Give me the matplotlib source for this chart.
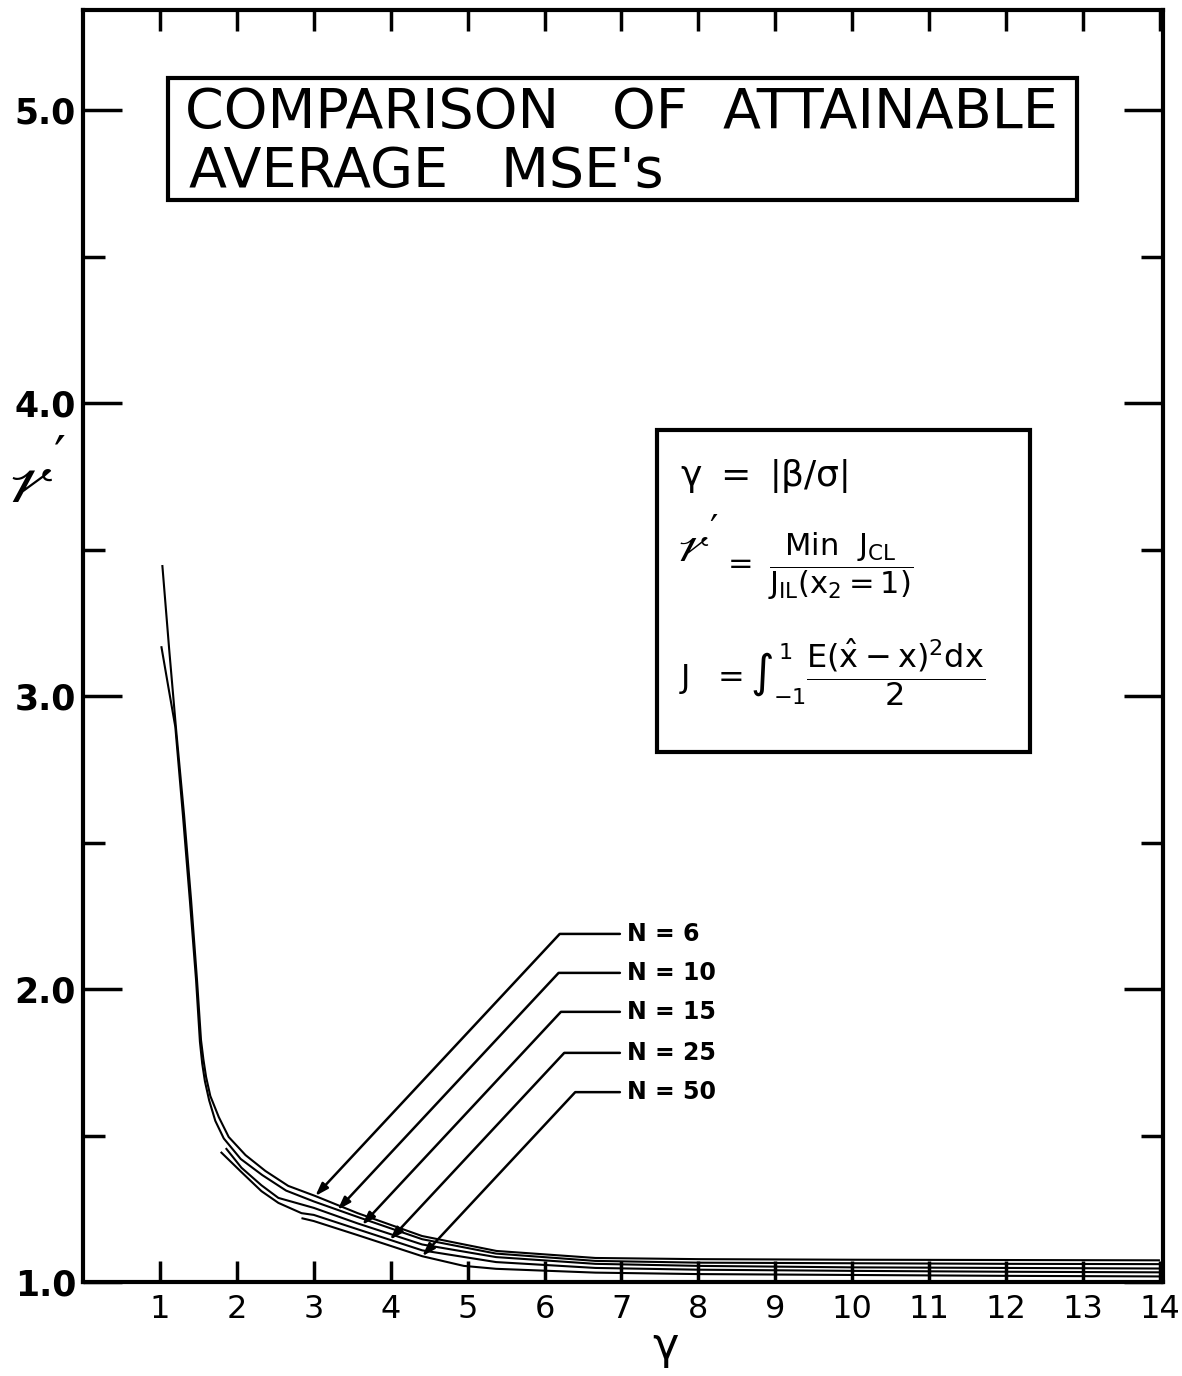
"""Comparison of attainable average MSE's (r' versus gamma, several N)."""

import matplotlib

matplotlib.use("Agg")
import matplotlib.pyplot as plt
import numpy as np
from matplotlib.patches import Rectangle

plt.rcParams["font.family"] = ["DejaVu Sans"]
plt.rcParams["mathtext.fontset"] = "dejavusans"
plt.rcParams["mathtext.default"] = "regular"

# curves, one per N
N_VALUES = [6, 10, 15, 25, 50]

GAMMA_N6 = [1.031, 1.121, 1.211, 1.314, 1.405, 1.482, 1.534, 1.565, 1.6, 1.655,
            1.765, 1.894, 2.113, 2.371, 2.668, 3.015, 3.57, 4.407, 5.374, 6.662,
            8.0, 10.0, 12.0, 14.0]
R_N6 = [3.447, 3.157, 2.884, 2.594, 2.304, 2.031, 1.826, 1.76, 1.70, 1.635,
        1.563, 1.495, 1.433, 1.379, 1.328, 1.294, 1.235, 1.157, 1.106, 1.082,
        1.078, 1.076, 1.075, 1.074]

GAMMA_N10 = [1.018, 1.11, 1.2, 1.3, 1.39, 1.47, 1.52, 1.55, 1.585, 1.64, 1.72,
             1.83, 2.05, 2.33, 2.64, 3.0, 3.57, 4.41, 5.37, 6.66, 8.0, 10.0,
             12.0, 14.0]
R_N10 = [3.17, 3.03, 2.895, 2.59, 2.30, 2.03, 1.82, 1.745, 1.685, 1.62, 1.55,
         1.49, 1.42, 1.365, 1.312, 1.275, 1.222, 1.146, 1.097, 1.072, 1.066,
         1.064, 1.062, 1.061]

GAMMA_N15 = [1.856, 2.06, 2.32, 2.54, 3.0, 3.57, 4.41, 5.37, 6.66, 8.0, 10.0,
             12.0, 14.0]
R_N15 = [1.457, 1.39, 1.33, 1.287, 1.253, 1.20, 1.128, 1.085, 1.062, 1.055,
         1.05, 1.048, 1.046]

GAMMA_N25 = [1.79, 2.06, 2.32, 2.54, 2.84, 3.0, 3.57, 4.41, 5.37, 6.66, 8.0,
             10.0, 12.0, 14.0]
R_N25 = [1.444, 1.375, 1.31, 1.27, 1.235, 1.229, 1.18, 1.108, 1.068, 1.048,
         1.042, 1.038, 1.035, 1.033]

GAMMA_N50 = [2.84, 3.0, 3.57, 4.41, 4.95, 5.37, 6.66, 8.0, 10.0, 12.0, 14.0]
R_N50 = [1.218, 1.208, 1.16, 1.088, 1.055, 1.045, 1.032, 1.027, 1.024, 1.021,
         1.019]

CURVES = [
    (GAMMA_N6, R_N6),
    (GAMMA_N10, R_N10),
    (GAMMA_N15, R_N15),
    (GAMMA_N25, R_N25),
    (GAMMA_N50, R_N50),
]

X_TICKS = list(range(1, 15))
Y_TICKS = [1.0, 2.0, 3.0, 4.0, 5.0]
Y_MINOR = [1.5, 2.5, 3.5, 4.5]

# where each leader arrow touches its curve, and where its label sits
ARROW_GAMMA = [3.02, 3.31, 3.63, 3.99, 4.41]
LABEL_R = [2.188, 2.055, 1.922, 1.782, 1.648]
LABEL_GAMMA = 7.07


def main():
    fig = plt.figure(figsize=(11.82, 13.76), dpi=100)
    fig.set_facecolor("white")
    ax = fig.add_axes([83 / 1182, 1 - 1282 / 1376, 1080 / 1182, 1272 / 1376])

    for gam, r in CURVES:
        ax.plot(gam, r, color="black", lw=1.5, solid_capstyle="butt")

    ax.set_xlim(0, 14.04)
    ax.set_ylim(1.0, 1.0 + 1272 / 293)

    ax.set_xticks(X_TICKS)
    ax.set_xticklabels([str(t) for t in X_TICKS])
    ax.set_yticks(Y_TICKS)
    ax.set_yticklabels([f"{t:.1f}" for t in Y_TICKS], fontweight="bold")
    ax.set_yticks(Y_MINOR, minor=True)

    ax.tick_params(axis="x", which="major", direction="in", length=15,
                   width=2.5, top=True, labelsize=23, pad=9)
    ax.tick_params(axis="y", which="major", direction="in", length=28,
                   width=2.5, right=True, labelsize=25, pad=5)
    ax.tick_params(axis="y", which="minor", direction="in", length=16,
                   width=2.5, right=True)
    for spine in ax.spines.values():
        spine.set_linewidth(3)

    ax.set_xlabel(r"$\gamma$", fontsize=32)
    ax.xaxis.set_label_coords(0.539, -0.035)
    ax.set_ylabel(r"$\mathscr{r}'$", fontsize=54, rotation=0,
                  math_fontfamily="stix", va="center")
    ax.yaxis.set_label_coords(-0.042, 0.628)

    # title box
    ax.add_patch(Rectangle((0.0787, 0.8506), 0.8417, 0.0959,
                           transform=ax.transAxes, fill=False, lw=3,
                           edgecolor="black"))
    ax.text(0.094, 0.9072, "COMPARISON   OF  ATTAINABLE",
            transform=ax.transAxes, fontsize=40, va="baseline", ha="left")
    ax.text(0.0985, 0.8608, "AVERAGE   MSE's",
            transform=ax.transAxes, fontsize=40, va="baseline", ha="left")

    # definitions box
    ax.add_patch(Rectangle((0.5315, 0.4167), 0.3455, 0.2531,
                           transform=ax.transAxes, fill=False, lw=3,
                           edgecolor="black"))
    ax.text(0.553, 0.634, r"$\gamma\ =\ \left|\beta/\sigma\right|$",
            transform=ax.transAxes, fontsize=26, va="center", ha="left")
    ax.text(0.550, 0.578, r"$\mathscr{r}'$", transform=ax.transAxes,
            fontsize=38, va="center", ha="left", math_fontfamily="stix")
    ax.text(0.592, 0.563,
            r"$=\ \dfrac{Min\ \ J_{CL}}{J_{IL}(x_{2}=1)}$",
            transform=ax.transAxes, fontsize=22, va="center", ha="left")
    ax.text(0.552, 0.4796,
            r"$J\ \ = \int_{-1}^{1}\dfrac{E(\hat{x}-x)^{2}dx}{2}$",
            transform=ax.transAxes, fontsize=23, va="center", ha="left")

    # leader arrows
    for n, (gam, r), ag, ly in zip(N_VALUES, CURVES, ARROW_GAMMA, LABEL_R):
        tip = np.interp(ag, gam, r)
        ax.annotate(
            f"N = {n}",
            xy=(ag, tip),
            xytext=(LABEL_GAMMA, ly),
            fontsize=17,
            fontweight="bold",
            ha="left",
            va="center",
            arrowprops=dict(
                arrowstyle="-|>,head_length=0.45,head_width=0.15",
                connectionstyle="angle,angleA=0,angleB=47,rad=0",
                lw=1.8,
                color="black",
                shrinkA=3,
                shrinkB=0,
            ),
        )

    fig.savefig("out.png", dpi=100, facecolor="white")


if __name__ == "__main__":
    main()
